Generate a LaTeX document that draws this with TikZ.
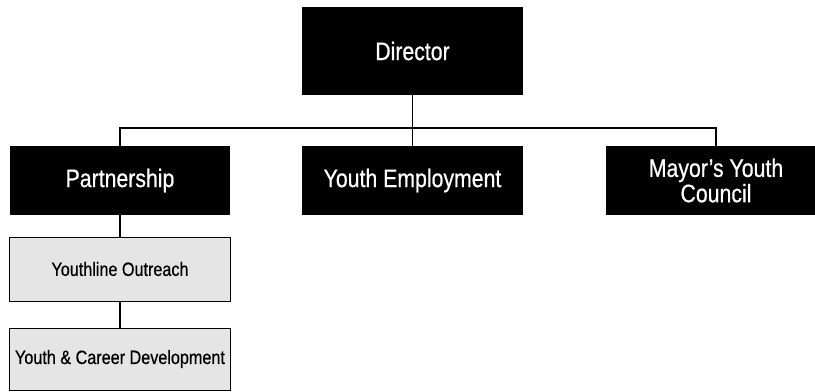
\documentclass[tikz,border=0pt]{standalone}
\usepackage{fontspec}
\setmainfont[FakeStretch=0.84, FakeBold=0.6]{Liberation Sans}
\tikzset{
  headbox/.style={fill=black, text=white, inner sep=0pt, minimum width=5.5cm,
    align=center, font=\fontsize{18}{18}\selectfont},
  unitbox/.style={draw=black, line width=0.7pt, fill=black!10, inner sep=0pt,
    minimum width=5.5cm, font=\fontsize{13.7}{15}\selectfont},
  link/.style={line width=1pt}
}
\begin{document}
\begin{tikzpicture}[x=0.025cm, y=-0.025cm]
  \useasboundingbox (0,0) rectangle (815,391);

  \node (dir) at (412.5,51) [headbox, minimum height=2.2cm] {Director};

  \node (part) at (120,180.5) [headbox, minimum height=1.725cm] {Partnership};
  \node (emp) at (412.5,180.5) [headbox, minimum height=1.725cm] {Youth Employment};
  \node (mayor) at (716,180.5) [headbox, minimum height=1.725cm] {Mayor’s Youth\\Council};

  \node (yol) at (120,269) [unitbox, minimum height=1.6cm] {Youthline Outreach};
  \node (ycd) at (120,359) [unitbox, minimum height=1.55cm] {Youth \& Career Development};

  \coordinate (bus) at (412.5,128);
  \draw[link] (dir) -- (emp);
  \draw[link] (part.north) |- (bus) -| (mayor.north);
  \draw[link] (part) -- (yol);
  \draw[link] (yol) -- (ycd);
\end{tikzpicture}
\end{document}
